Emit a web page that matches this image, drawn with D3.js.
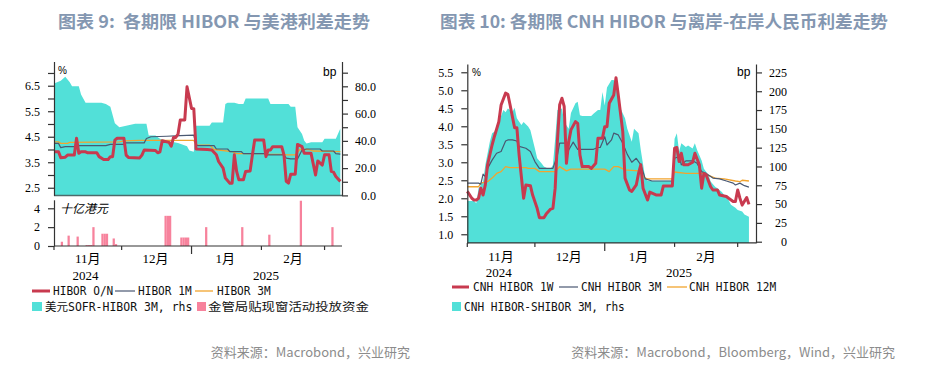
<!DOCTYPE html>
<html><head><meta charset="utf-8">
<script src="https://cdn.jsdelivr.net/npm/d3@7"></script>
<style>body{margin:0;background:#fff}svg{display:block}</style>
</head><body><svg id="c" width="925" height="367"></svg>
<script>
// ---------- DATA (dates are MM-DD; Nov/Dec = 2024, Jan-Mar = 2025) ----------
const spreadL = [["11-01",82],["11-04",84],["11-06",87],["11-08",83],["11-09",80],["11-12",80],["11-13",74],["11-15",68],["11-22",68],["11-24",67],["11-26",65],["11-28",53],["11-30",50],["12-03",51],["12-07",52.5],["12-12",52.5],["12-13",44],["12-16",44],["12-18",41.5],["12-21",40],["12-26",38.5],["12-30",36],["12-31",33],["01-02",32],["01-03",51],["01-09",51],["01-10",53.5],["01-15",53.5],["01-16",67],["01-17",68],["01-20",68],["01-22",67],["01-24",67],["01-25",71],["02-04",71],["02-05",67],["02-13",67],["02-14",65],["02-16",65],["02-17",50],["02-19",45],["02-20",40],["02-21",38],["02-23",39],["02-28",39],["03-01",41.5],["03-06",41.5],["03-08",49]];
const hiborON = [["11-01",3.91],["11-03",3.91],["11-04",3.68],["11-06",3.70],["11-07",3.78],["11-10",3.78],["11-11",4.44],["11-12",3.85],["11-13",3.91],["11-15",3.91],["11-16",3.87],["11-20",3.87],["11-21",3.72],["11-23",3.61],["11-25",3.61],["11-26",3.72],["11-27",3.72],["11-28",4.37],["11-29",4.44],["12-02",4.44],["12-03",3.78],["12-04",3.69],["12-09",3.67],["12-10",3.78],["12-11",3.98],["12-16",3.96],["12-17",3.87],["12-18",3.91],["12-19",4.34],["12-22",4.28],["12-23",4.13],["12-24",4.47],["12-25",4.47],["12-26",4.60],["12-27",5.16],["12-29",5.16],["12-30",6.46],["01-01",5.61],["01-02",5.60],["01-03",4.02],["01-08",4.00],["01-10",3.98],["01-12",3.79],["01-13",3.53],["01-15",3.27],["01-16",2.88],["01-18",2.68],["01-19",2.68],["01-20",3.79],["01-21",3.14],["01-22",2.81],["01-24",2.81],["01-25",3.14],["01-27",3.16],["01-28",3.79],["01-29",4.37],["02-02",4.37],["02-03",3.72],["02-04",3.98],["02-05",3.98],["02-06",4.11],["02-10",4.11],["02-11",3.79],["02-12",2.75],["02-13",2.68],["02-14",3.03],["02-16",3.03],["02-17",4.20],["02-19",4.11],["02-20",3.85],["02-23",3.85],["02-25",3.00],["02-26",3.55],["02-28",3.39],["03-01",3.79],["03-03",3.79],["03-04",3.14],["03-05",3.11],["03-06",2.94],["03-08",2.75]];
const hibor1M = [["11-01",4.24],["11-03",4.24],["11-04",4.07],["11-06",4.11],["11-11",4.11],["11-12",4.15],["11-24",4.15],["11-26",4.20],["12-02",4.20],["12-03",4.26],["12-11",4.26],["12-12",4.43],["12-14",4.50],["12-21",4.52],["12-27",4.54],["01-02",4.56],["01-03",4.17],["01-04",4.15],["01-11",4.15],["01-12",4.02],["01-17",4.02],["01-18",3.92],["01-23",3.92],["01-24",3.84],["02-02",3.84],["02-03",3.79],["02-11",3.79],["02-12",3.66],["02-14",3.63],["02-17",3.63],["02-19",3.98],["02-21",4.02],["02-27",4.02],["02-28",3.94],["03-05",3.94],["03-06",3.84],["03-08",3.82]];
const hibor3M = [["11-01",4.30],["11-03",4.30],["11-04",4.24],["11-07",4.24],["11-08",4.28],["11-30",4.30],["12-02",4.34],["12-09",4.36],["01-02",4.36],["01-03",4.17],["01-09",4.17],["01-11",4.00],["01-19",3.92],["01-21",3.84],["02-03",3.84],["02-04",3.81],["02-11",3.81],["02-12",3.79],["02-16",3.79],["02-18",4.00],["02-22",4.00],["02-24",3.94],["03-08",3.92]];
const windowFunds = [["11-04",0.45],["11-07",1.1],["11-11",1.0],["11-15",0.1],["11-16",0.1],["11-17",0.1],["11-18",2.0],["11-22",1.3],["11-23",1.3],["11-24",1.3],["11-27",0.8],["11-28",0.2],["12-20",3.2],["12-21",3.2],["12-22",3.2],["12-27",0.9],["12-28",0.9],["12-29",0.9],["12-30",0.9],["01-07",2.0],["01-23",2.0],["02-04",1.2],["02-18",4.8],["03-04",2.0]];

const spreadR = [["11-01",54],["11-04",54],["11-05",51],["11-06",71],["11-08",80],["11-09",102],["11-11",133],["11-12",144],["11-14",148],["11-15",159],["11-17",175],["11-18",172],["11-19",177],["11-20",175],["11-21",172],["11-22",178],["11-23",164],["11-25",155],["11-26",159],["11-28",153],["11-29",148],["12-01",124],["12-02",111],["12-04",104],["12-05",100],["12-07",97],["12-08",97],["12-09",102],["12-10",137],["12-11",175],["12-13",177],["12-14",159],["12-16",150],["12-17",171],["12-19",184],["12-20",186],["12-21",168],["12-22",167],["12-26",167],["12-27",170],["12-29",175],["12-30",175],["12-31",199],["01-01",181],["01-02",205],["01-04",215],["01-05",215],["01-07",193],["01-08",177],["01-10",164],["01-11",150],["01-13",133],["01-14",150],["01-16",144],["01-17",122],["01-19",84],["01-20",81],["01-31",81],["02-01",137],["02-02",144],["02-03",120],["02-04",131],["02-06",126],["02-07",128],["02-09",124],["02-10",131],["02-11",122],["02-13",108],["02-14",97],["02-16",89],["02-17",80],["02-19",73],["02-20",71],["02-22",66],["02-23",62],["02-25",55],["02-26",49],["02-28",45],["03-01",42],["03-03",40],["03-04",36],["03-06",33]];
const cnh1W = [["11-01",2.19],["11-03",2.0],["11-04",1.95],["11-05",1.95],["11-06",2.0],["11-07",2.28],["11-08",2.09],["11-09",2.37],["11-10",2.93],["11-12",3.48],["11-13",3.71],["11-15",4.13],["11-16",4.59],["11-18",4.92],["11-19",4.89],["11-20",4.59],["11-21",4.27],["11-22",3.96],["11-23",3.96],["11-24",3.2],["11-26",2.0],["11-27",2.37],["11-29",2.35],["11-30",2.09],["12-02",1.72],["12-03",1.46],["12-05",1.46],["12-06",1.56],["12-08",1.70],["12-09",1.72],["12-10",2.28],["12-11",3.6],["12-12",4.6],["12-13",4.78],["12-14",4.55],["12-15",2.97],["12-16",3.57],["12-17",3.90],["12-19",4.13],["12-20",4.08],["12-21",3.2],["12-22",2.88],["12-25",2.88],["12-26",2.83],["12-28",2.97],["12-29",3.67],["12-31",3.67],["01-01",3.99],["01-02",3.99],["01-03",4.64],["01-05",4.87],["01-06",5.35],["01-07",4.87],["01-09",3.85],["01-10",2.56],["01-12",2.23],["01-13",2.19],["01-15",2.37],["01-16",2.69],["01-17",2.93],["01-18",2.28],["01-20",1.95],["01-21",2.17],["01-24",2.09],["01-26",2.09],["01-27",2.34],["01-31",2.34],["02-01",3.39],["02-02",3.41],["02-03",3.02],["02-04",3.25],["02-05",2.93],["02-07",2.93],["02-09",3.0],["02-10",3.25],["02-12",2.93],["02-13",2.28],["02-14",2.69],["02-15",2.65],["02-17",2.32],["02-18",2.23],["02-20",2.23],["02-21",2.09],["02-24",2.05],["02-25",2.0],["02-27",1.91],["02-28",1.91],["03-01",2.23],["03-02",2.0],["03-03",1.81],["03-05",2.02],["03-06",1.83]];
const cnh3M = [["11-01",2.42],["11-06",2.42],["11-07",2.39],["11-08",2.67],["11-09",2.60],["11-10",2.83],["11-12",3.06],["11-14",3.25],["11-16",3.30],["11-18",3.59],["11-19",3.62],["11-21",3.62],["11-23",3.59],["11-24",3.44],["11-27",3.39],["11-29",3.30],["12-01",3.02],["12-03",2.83],["12-09",2.83],["12-11",3.20],["12-12",3.53],["12-15",3.53],["12-16",3.34],["12-18",3.56],["12-20",3.36],["12-27",3.36],["12-29",3.41],["12-30",3.41],["01-01",3.71],["01-02",3.48],["01-04",3.62],["01-05",3.81],["01-07",3.76],["01-09",3.53],["01-11",3.22],["01-13",3.00],["01-15",3.11],["01-17",2.93],["01-19",2.54],["01-22",2.48],["01-31",2.48],["02-01",3.11],["02-03",3.16],["02-04",2.93],["02-06",3.04],["02-09",3.04],["02-11",2.97],["02-13",2.74],["02-15",2.69],["02-18",2.56],["02-21",2.54],["02-24",2.48],["02-27",2.42],["02-28",2.37],["03-02",2.42],["03-04",2.35],["03-06",2.31]];
const cnh12M = [["11-01",2.32],["11-06",2.32],["11-07",2.42],["11-10",2.46],["11-12",2.56],["11-14",2.69],["11-16",2.74],["11-18",2.88],["11-20",2.85],["11-27",2.85],["11-28",2.83],["12-01",2.83],["12-03",2.74],["12-10",2.74],["12-12",2.88],["12-15",2.76],["12-17",2.81],["01-01",2.81],["01-03",2.74],["01-05",2.88],["01-07",2.88],["01-10",2.79],["01-16",2.76],["01-19",2.56],["01-20",2.54],["01-31",2.54],["02-01",2.73],["02-06",2.69],["02-14",2.69],["02-19",2.56],["02-23",2.54],["02-28",2.48],["03-02",2.46],["03-03",2.50],["03-06",2.48]];

const monthTicks = ["11-01","12-01","01-01","02-01","03-01"];
const monthLabels = [["11-16","11月"],["12-16","12月"],["01-16","1月"],["02-15","2月"]];
const yearLabels = [["11-15","2024"],["02-03","2025"]];
const yTicksL = [2.5,3.0,3.5,4.0,4.5,5.0,5.5,6.0,6.5,7.0];
const yTicksLR = [0,10,20,30,40,50,60,70,80,90];
const yTicksBar = [0,2,4];
const yTicksR = [1.0,1.5,2.0,2.5,3.0,3.5,4.0,4.5,5.0,5.5];
const yTicksRR = [0,25,50,75,100,125,150,175,200,225];

// ---------- helpers ----------
const parse = s => { const [m,d] = s.split("-").map(Number); return new Date(m >= 11 ? 2024 : 2025, m - 1, d); };
const pts = arr => arr.map(([d, v]) => ({d: parse(d), v}));
const svg = d3.select("#c");
const C = {red:"#c83a4f", dark:"#4a5872", orange:"#f2a42e", cyan:"#52e0d8", pink:"#f7829c", axis:"#333", title:"#8497b1", src:"#8c8c8c"};
const serif = "'Liberation Serif','Times New Roman',serif";
const mono = "'DejaVu Sans Mono','Liberation Mono','Noto Sans CJK SC',monospace";
const cjk = "'Noto Sans CJK SC','Noto Sans',sans-serif";

function line(g, x, y, data, color, w) {
  g.append("path").datum(pts(data)).attr("fill","none").attr("stroke",color).attr("stroke-width",w)
   .attr("stroke-linejoin","round").attr("d", d3.line().x(p => x(p.d)).y(p => y(p.v)));
}
function area(g, x, y, data, color, base) {
  g.append("path").datum(pts(data)).attr("fill",color)
   .attr("d", d3.area().x(p => x(p.d)).y0(base).y1(p => y(p.v)));
}
function styleAxis(sel) {
  sel.select(".domain").attr("stroke", C.axis).attr("stroke-width", 1.2);
  sel.selectAll(".tick line").attr("stroke", C.axis).attr("stroke-width", 1.2);
  sel.selectAll(".tick text").attr("font-family", serif).attr("font-size", 12).attr("fill", "#000");
  sel.attr("font-family", null).attr("font-size", null);
}
function halfUnits(t) { let n = 0; for (const ch of t) n += ch.charCodeAt(0) > 0x2e80 ? 2 : 1; return n; }
function legText(g, x, y, t) {
  g.append("text").attr("x", x).attr("y", y).attr("font-family", mono).attr("font-size", 11.5)
   .attr("fill", "#111").attr("textLength", halfUnits(t) * 6.7).attr("lengthAdjust", "spacingAndGlyphs")
   .style("white-space","pre").text(t);
}
function xAxisBottom(g, x, y0, x0, x1) {
  g.append("line").attr("x1", x0).attr("x2", x1).attr("y1", y0).attr("y2", y0).attr("stroke", C.axis).attr("stroke-width", 1.2);
  monthTicks.forEach(m => {
    const big = m === "01-01";
    g.append("line").attr("x1", x(parse(m))).attr("x2", x(parse(m))).attr("y1", y0).attr("y2", y0 + (big ? 8 : 4))
     .attr("stroke", C.axis).attr("stroke-width", 1.2);
  });
}
function xLabels(g, x, yM, yY) {
  monthLabels.forEach(([d, t]) => g.append("text").attr("x", x(parse(d))).attr("y", yM).attr("text-anchor","middle")
    .attr("font-family", serif + ",'Noto Sans CJK SC'").attr("font-size", 13).attr("fill","#000").text(t));
  yearLabels.forEach(([d, t]) => g.append("text").attr("x", x(parse(d))).attr("y", yY).attr("text-anchor","middle")
    .attr("font-family", serif).attr("font-size", 13).attr("fill","#000").text(t));
}

// ---------- titles ----------
svg.append("text").attr("x", 58).attr("y", 28).attr("font-family", cjk).attr("font-weight", 700).attr("font-size", 17)
  .attr("fill", C.title).attr("textLength", 312).attr("lengthAdjust","spacingAndGlyphs").style("white-space","pre")
  .text("图表 9:  各期限 HIBOR 与美港利差走势");
svg.append("text").attr("x", 440).attr("y", 28).attr("font-family", cjk).attr("font-weight", 700).attr("font-size", 17)
  .attr("fill", C.title).attr("textLength", 448).attr("lengthAdjust","spacingAndGlyphs").style("white-space","pre")
  .text("图表 10: 各期限 CNH HIBOR 与离岸-在岸人民币利差走势");

// ---------- LEFT CHART ----------
const gL = svg.append("g");
const xL = d3.scaleTime().domain([parse("11-01"), parse("03-09")]).range([54, 342.6]);
const yL = d3.scaleLinear().domain([2.2, 7.45]).range([195.4, 61.5]);
const yLR = d3.scaleLinear().domain([0, 98.2]).range([195.4, 61.5]);
const yB = d3.scaleLinear().domain([0, 4.9]).range([246, 199.8]);

area(gL, xL, yLR, spreadL, C.cyan, 195.4);
line(gL, xL, yL, hibor3M, C.orange, 1.3);
line(gL, xL, yL, hibor1M, C.dark, 1.2);
line(gL, xL, yL, hiborON, C.red, 3);

gL.append("line").attr("x1", 54).attr("x2", 342).attr("y1", 195.4).attr("y2", 195.4).attr("stroke", "#4d6b6b").attr("stroke-width", 1.5);

const aL = gL.append("g").attr("transform","translate(54,0)")
  .call(d3.axisLeft(yL).tickValues(yTicksL).tickFormat(v => Math.round(v * 2) % 2 ? d3.format(".1f")(v) : "")
  .tickSize(6).tickPadding(8).tickSizeOuter(0));
styleAxis(aL);
const aLR = gL.append("g").attr("transform","translate(342,0)")
  .call(d3.axisRight(yLR).tickValues(yTicksLR).tickFormat(v => v % 20 === 0 ? d3.format(".1f")(v) : "")
  .tickSize(6).tickSizeOuter(0));
styleAxis(aLR);
aLR.selectAll(".tick text").attr("text-anchor","end").attr("x", 34);

gL.append("text").attr("x", 58).attr("y", 74).attr("font-family","'Liberation Sans',Arial,sans-serif").attr("font-size", 10).text("%");
gL.append("text").attr("x", 323).attr("y", 76).attr("font-family","'Liberation Sans',Arial,sans-serif").attr("font-size", 12).text("bp");

// bar panel
const dayW = xL(parse("11-02")) - xL(parse("11-01"));
gL.selectAll("rect.bar").data(pts(windowFunds)).join("rect").attr("class","bar")
  .attr("x", p => xL(p.d)).attr("width", dayW).attr("y", p => yB(p.v)).attr("height", p => yB(0) - yB(p.v))
  .attr("fill", C.pink);
const aB = gL.append("g").attr("transform","translate(54,0)")
  .call(d3.axisLeft(yB).tickValues(yTicksBar).tickFormat(d3.format("d")).tickSize(6).tickPadding(8).tickSizeOuter(0));
styleAxis(aB);
gL.append("text").attr("x", 60).attr("y", 213).attr("font-family", cjk).attr("font-size", 12).attr("font-style","italic").text("十亿港元");
xAxisBottom(gL, xL, 246, 54, 342);
xLabels(gL, xL, 263, 280);

// left legend
const lg = svg.append("g");
lg.append("line").attr("x1",32).attr("x2",50).attr("y1",291).attr("y2",291).attr("stroke",C.red).attr("stroke-width",3);
legText(lg, 53, 295, "HIBOR O/N");
lg.append("line").attr("x1",115).attr("x2",135).attr("y1",291).attr("y2",291).attr("stroke",C.dark).attr("stroke-width",1.2);
legText(lg, 138, 295, "HIBOR 1M");
lg.append("line").attr("x1",195).attr("x2",213).attr("y1",291).attr("y2",291).attr("stroke",C.orange).attr("stroke-width",1.3);
legText(lg, 217, 295, "HIBOR 3M");
lg.append("rect").attr("x",32).attr("y",302).attr("width",10).attr("height",9).attr("fill",C.cyan);
legText(lg, 45, 311, "美元SOFR-HIBOR 3M, rhs");
lg.append("rect").attr("x",197).attr("y",302).attr("width",9).attr("height",9).attr("fill",C.pink);
legText(lg, 208, 311, "金管局贴现窗活动投放资金");

svg.append("text").attr("x", 410).attr("y", 357).attr("text-anchor","end").attr("font-family", cjk).attr("font-size", 13)
  .attr("fill", C.src).text("资料来源：Macrobond，兴业研究");

// ---------- RIGHT CHART ----------
const gR = svg.append("g");
const xR = d3.scaleTime().domain([parse("11-01"), parse("03-09")]).range([467.3, 755.7]);
const yR = d3.scaleLinear().domain([0.76, 5.73]).range([242.9, 64]);
const yRR = d3.scaleLinear().domain([-1.6, 236.2]).range([242.9, 64]);

area(gR, xR, yRR, spreadR, C.cyan, 242.9);
line(gR, xR, yR, cnh12M, C.orange, 1.3);
line(gR, xR, yR, cnh3M, C.dark, 1.2);
line(gR, xR, yR, cnh1W, C.red, 3);

const aR = gR.append("g").attr("transform","translate(467.3,0)")
  .call(d3.axisLeft(yR).tickValues(yTicksR).tickFormat(d3.format(".1f")).tickSize(6).tickPadding(8).tickSizeOuter(0));
styleAxis(aR);
const aRR = gR.append("g").attr("transform","translate(756,0)")
  .call(d3.axisRight(yRR).tickValues(yTicksRR).tickFormat(d3.format("d")).tickSize(6).tickSizeOuter(0));
styleAxis(aRR);
aRR.selectAll(".tick text").attr("text-anchor","end").attr("x", 31);
xAxisBottom(gR, xR, 242.9, 467.3, 756);
xLabels(gR, xR, 261, 277);
gR.append("text").attr("x", 472).attr("y", 76).attr("font-family","'Liberation Sans',Arial,sans-serif").attr("font-size", 10).text("%");
gR.append("text").attr("x", 737).attr("y", 76).attr("font-family","'Liberation Sans',Arial,sans-serif").attr("font-size", 12).text("bp");

const rg = svg.append("g");
rg.append("line").attr("x1",452).attr("x2",469).attr("y1",287).attr("y2",287).attr("stroke",C.red).attr("stroke-width",3);
legText(rg, 473, 291, "CNH HIBOR 1W");
rg.append("line").attr("x1",559).attr("x2",578).attr("y1",287).attr("y2",287).attr("stroke",C.dark).attr("stroke-width",1.2);
legText(rg, 581, 291, "CNH HIBOR 3M");
rg.append("line").attr("x1",667).attr("x2",687).attr("y1",287).attr("y2",287).attr("stroke",C.orange).attr("stroke-width",1.3);
legText(rg, 689, 291, "CNH HIBOR 12M");
rg.append("rect").attr("x",452).attr("y",302).attr("width",9).attr("height",9).attr("fill",C.cyan);
legText(rg, 464, 311, "CNH HIBOR-SHIBOR 3M, rhs");

svg.append("text").attr("x", 895).attr("y", 357).attr("text-anchor","end").attr("font-family", cjk).attr("font-size", 13)
  .attr("fill", C.src).text("资料来源：Macrobond，Bloomberg，Wind，兴业研究");
</script></body></html>
